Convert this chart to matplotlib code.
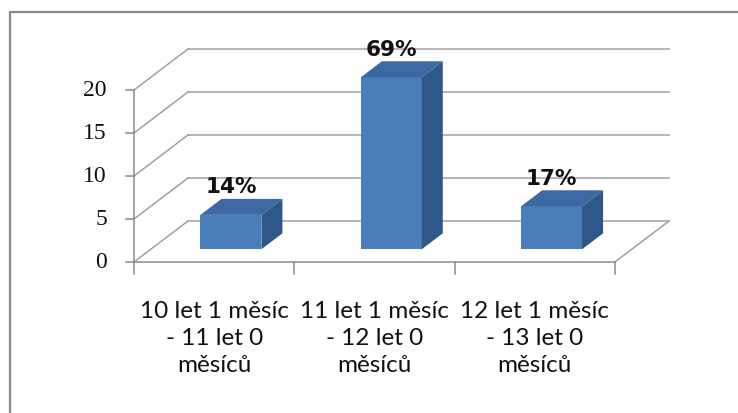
import matplotlib.pyplot as plt
from matplotlib.patches import Polygon, Rectangle

# data
categories = ["10 let 1 měsíc\n- 11 let 0\nměsíců",
              "11 let 1 měsíc\n- 12 let 0\nměsíců",
              "12 let 1 měsíc\n- 13 let 0\nměsíců"]
counts = [4, 20, 5]
pct_labels = ["14%", "69%", "17%"]
y_ticks = [0, 5, 10, 15, 20]

W, H = 738, 414
fig = plt.figure(figsize=(W / 100, H / 100), dpi=100)
fig.patch.set_facecolor("white")

# outer chart border (top/left edges visible, rest runs off the image)
fig.patches.append(Rectangle((10 / W, -0.1), 1.2, (H - 13) / H + 0.1,
                             transform=fig.transFigure, fill=False,
                             edgecolor="#8a8a8a", lw=1.6))

# front plane of the 3D box: x = 0..3 categories, y = 0..20
x0, x1 = 134, 615
y0, y20 = 263, 91
ax = fig.add_axes([x0 / W, (H - y0) / H, (x1 - x0) / W, (y0 - y20) / H])
ax.set_xlim(0, 3)
ax.set_ylim(0, 20)
ax.axis("off")

px_x = 3 / (x1 - x0)        # data units per pixel, x
px_y = 20 / (y0 - y20)      # data units per pixel, y
dx, dy = 54 * px_x, 41 * px_y   # depth of the box
grid_c = "#a0a0a0"
axis_c = "#8c8c8c"

# back wall gridlines + left wall diagonals
for v in y_ticks:
    ax.plot([0, dx], [v, v + dy], color=grid_c, lw=1.1, clip_on=False, zorder=1)
    ax.plot([dx, 3 + dx], [v + dy, v + dy], color=grid_c, lw=1.1, clip_on=False, zorder=1)
    ax.plot([-8 * px_x, 0], [v, v], color=axis_c, lw=1.1, clip_on=False, zorder=2)
    ax.text(-27 * px_x, v, str(v), ha="right", va="center", fontsize=17,
            family="Liberation Serif", color="#111111")

# floor right edge, front edge, left axis
ax.plot([3, 3 + dx], [0, dy], color=grid_c, lw=1.1, clip_on=False, zorder=1)
ax.plot([0, 3], [0, 0], color=axis_c, lw=1.1, clip_on=False, zorder=2)
ax.plot([0, 0], [0, 20], color=axis_c, lw=1.1, clip_on=False, zorder=2)
for k in range(4):
    ax.plot([k, k], [0, -12 * px_y], color=axis_c, lw=1.1, clip_on=False, zorder=2)

# 3D bars
f0, f1 = 0.31, 0.70        # front / back depth of the bars
half = 0.19
front_c, top_c, side_c = "#4a7ebb", "#3c69a4", "#2f5889"
for i, v in enumerate(counts):
    cx = i + 0.5
    xa = cx - half + f0 * dx
    xb = cx + half + f0 * dx
    ya = f0 * dy
    yt = v + f0 * dy
    ddx, ddy = (f1 - f0) * dx, (f1 - f0) * dy
    front = Polygon([(xa, ya), (xb, ya), (xb, yt), (xa, yt)], closed=True,
                    facecolor=front_c, edgecolor="none", clip_on=False, zorder=4)
    top = Polygon([(xa, yt), (xb, yt), (xb + ddx, yt + ddy), (xa + ddx, yt + ddy)],
                  closed=True, facecolor=top_c, edgecolor="none", clip_on=False, zorder=4)
    side = Polygon([(xb, ya), (xb + ddx, ya + ddy), (xb + ddx, yt + ddy), (xb, yt)],
                   closed=True, facecolor=side_c, edgecolor="none", clip_on=False, zorder=4)
    for p in (front, top, side):
        ax.add_patch(p)
    ax.text((xa + xb) / 2, yt + ddy + 0.3, pct_labels[i], ha="center", va="bottom",
            fontsize=15.5, fontweight="bold", family="DejaVu Sans", color="#111111",
            zorder=5)

# category labels
for i, lab in enumerate(categories):
    ax.text(i + 0.5, -4.4, lab, ha="center", va="top", fontsize=17.5,
            family="Lato", linespacing=1.35, color="#111111")

fig.savefig("out.png", dpi=100, facecolor="white")
